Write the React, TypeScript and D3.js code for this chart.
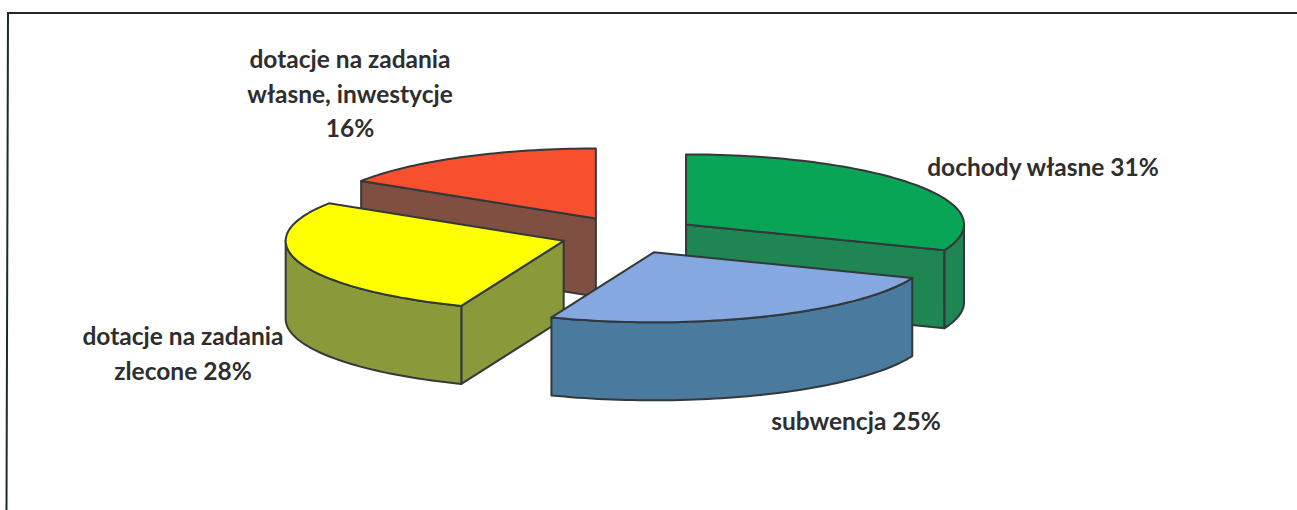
import React from "react";
import * as d3 from "d3";

const categories = ["dochody własne", "subwencja", "dotacje na zadania zlecone", "dotacje na zadania własne, inwestycje"];
const values = [31, 25, 28, 16];
const topColors = ["#08a557", "#84a8df", "#ffff00", "#f8502f"];
const sideColors = ["#1f8552", "#4a7a9e", "#8a9a3a", "#7f4f42"];
const labelLines = [
  ["dochody własne 31%"],
  ["subwencja 25%"],
  ["dotacje na zadania", "zlecone 28%"],
  ["dotacje na zadania", "własne, inwestycje", "16%"],
];
const labelX = [1043, 856, 183, 350];
const labelY = [176, 430, 345, 68];
const nudgeX = [-3, -3, 8, 5];

const W = 1297, H = 510;
const cx = 627, cy = 235, rx = 278, ry = 70, depth = 78, explode = 75;

const pie = d3.pie<number>().sort(null).startAngle(0).endAngle(2 * Math.PI);
const arcs = pie(values);
const angleScale = d3.scaleLinear().domain([0, 1]);

const px = (a: number, ox: number) => ox + rx * Math.sin(a);
const py = (a: number, oy: number) => oy - ry * Math.cos(a);

function arcPoints(a0: number, a1: number, ox: number, oy: number, dy = 0): [number, number][] {
  const n = Math.max(4, Math.ceil(Math.abs(a1 - a0) * 40));
  angleScale.range([a0, a1]);
  return d3.range(n + 1).map((i) => {
    const a = angleScale(i / n);
    return [px(a, ox), py(a, oy) + dy] as [number, number];
  });
}
const line = d3.line<[number, number]>();

export default function App() {
  const slices = arcs.map((d, i) => {
    const mid = (d.startAngle + d.endAngle) / 2;
    const ox = cx + explode * Math.sin(mid) + nudgeX[i];
    const oy = cy - (explode * ry * Math.cos(mid)) / rx;
    const c: [number, number] = [ox, oy];
    const top = line([c, ...arcPoints(d.startAngle, d.endAngle, ox, oy)]) + "Z";
    const walls: string[] = [];
    const face = (a: number) => {
      const p: [number, number] = [px(a, ox), py(a, oy)];
      walls.push(line([c, p, [p[0], p[1] + depth], [ox, oy + depth]])! + "Z");
    };
    // only the radial faces turned toward the viewer are drawn
    if (Math.sin(d.startAngle) < -1e-6) face(d.startAngle);
    if (Math.sin(d.endAngle) > 1e-6) face(d.endAngle);
    // outer rim: only where the surface faces the viewer
    const lo = Math.max(d.startAngle, Math.PI / 2);
    const hi = Math.min(d.endAngle, (3 * Math.PI) / 2);
    if (hi > lo) {
      const upper = arcPoints(lo, hi, ox, oy);
      const lower = arcPoints(hi, lo, ox, oy, depth);
      walls.push(line([...upper, ...lower])! + "Z");
    }
    return { i, top, walls };
  });
  // back to front
  const order = [3, 0, 2, 1];
  return (
    <svg width={W} height={H} style={{ position: "absolute", left: 0, top: 0, display: "block" }}>
      <rect x={0} y={0} width={W} height={H} fill="#ffffff" />
      <path d={`M6.5,510L8,13H1297`} fill="none" stroke="#1f2a28" strokeWidth={2} />
      {order.map((k) => {
        const s = slices[k];
        return (
          <g key={categories[k]} stroke="#33383a" strokeWidth={2} strokeLinejoin="round">
            {s.walls.map((w, j) => (
              <path key={j} d={w} fill={sideColors[k]} />
            ))}
            <path d={s.top} fill={topColors[k]} />
          </g>
        );
      })}
      <g fontFamily="Lato, sans-serif" fontWeight={700} fontSize={24.5} fill="#2e2e2e" textAnchor="middle">
        {labelLines.map((ls, i) =>
          ls.map((t, j) => (
            <text key={t + j} x={labelX[i]} y={labelY[i] + j * 34.5}>
              {t}
            </text>
          ))
        )}
      </g>
    </svg>
  );
}
